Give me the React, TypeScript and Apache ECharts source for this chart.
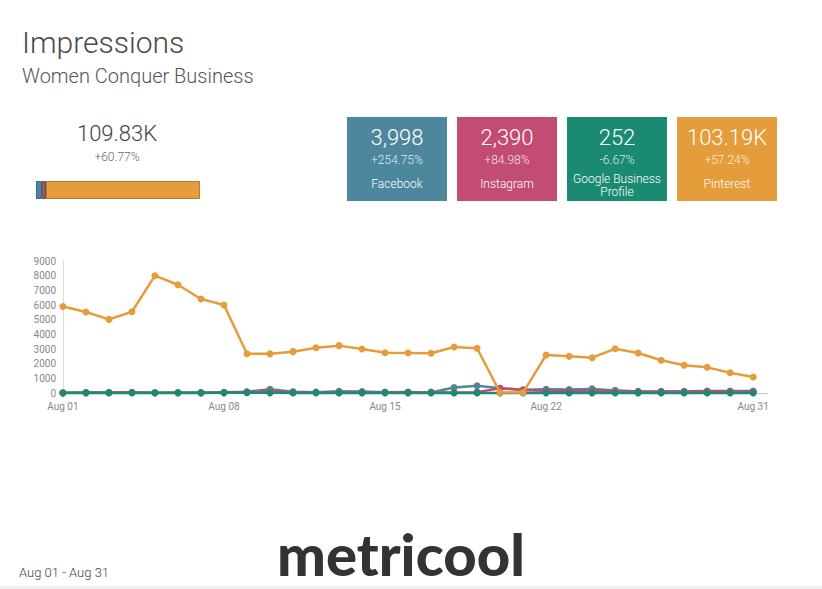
import React, { useEffect, useRef } from "react";
import * as echarts from "echarts";

const dates = [
  "Aug 01","Aug 02","Aug 03","Aug 04","Aug 05","Aug 06","Aug 07","Aug 08","Aug 09","Aug 10",
  "Aug 11","Aug 12","Aug 13","Aug 14","Aug 15","Aug 16","Aug 17","Aug 18","Aug 19","Aug 20",
  "Aug 21","Aug 22","Aug 23","Aug 24","Aug 25","Aug 26","Aug 27","Aug 28","Aug 29","Aug 30","Aug 31",
];
const xLabelIdx = [0, 7, 14, 21, 30];
const yLabels = [0, 1000, 2000, 3000, 4000, 5000, 6000, 7000, 8000, 9000];

const facebook = [20, 30, 40, 30, 20, 30, 30, 50, 80, 250, 90, 60, 120, 100, 60, 70, 40, 380, 500, 320, 220, 260, 240, 280, 180, 110, 110, 120, 130, 140, 140];
const instagram = [10, 20, 40, 50, 20, 20, 10, 20, 70, 120, 60, 40, 60, 40, 30, 50, 60, 40, 60, 330, 200, 150, 130, 140, 110, 90, 80, 90, 120, 100, 90];
const google = [5, 10, 8, 6, 8, 9, 7, 10, 12, 10, 8, 9, 7, 8, 10, 9, 8, 6, 7, 8, 9, 10, 7, 8, 6, 9, 8, 7, 8, 9, 7];
const pinterest = [5900, 5520, 5020, 5540, 8000, 7380, 6410, 6000, 2680, 2670, 2820, 3090, 3230, 3000, 2750, 2730, 2710, 3140, 3050, 30, 30, 2590, 2500, 2410, 3020, 2730, 2230, 1890, 1750, 1380, 1090];

const networks = ["Facebook", "Instagram", "Google Business\nProfile", "Pinterest"];
const totals = [3998, 2390, 252, 103190];
const totalLabels = ["3,998", "2,390", "252", "103.19K"];
const changes = ["+254.75%", "+84.98%", "-6.67%", "+57.24%"];
const colors = ["#4C879D", "#C24C72", "#1B8A72", "#E59C3A"];
const borderColors = ["#3A6B7D", "#9A3A58", "#13705C", "#B9792A"];
const grandTotalLabel = "109.83K";
const grandChange = "+60.77%";
const dateRange = "Aug 01 - Aug 31";

const FONT = "Roboto, 'Liberation Sans', Arial, sans-serif";

export default function App() {
  const ref = useRef<HTMLDivElement>(null);
  useEffect(() => {
    if (!ref.current) return;
    const chart = echarts.init(ref.current, undefined, { renderer: "svg" });
    const seriesData = [facebook, instagram, google, pinterest];
    const lineSeries = seriesData.map((arr, k) => ({
      type: "line",
      name: networks[k],
      xAxisIndex: 0,
      yAxisIndex: 0,
      data: arr.map((v, i) => [i, v]),
      symbol: "circle",
      symbolSize: 7,
      lineStyle: { width: 2.5, color: colors[k] },
      itemStyle: { color: colors[k] },
      z: 2 + k,
    }));
    const barSeries = totals.map((t, k) => ({
      type: "bar",
      name: networks[k] + " total",
      xAxisIndex: 1,
      yAxisIndex: 1,
      stack: "total",
      barWidth: 18,
      data: [t],
      itemStyle: { color: colors[k], borderColor: borderColors[k], borderWidth: 1 },
    }));

    const graphics: any[] = [
      { type: "text", x: 22, y: 42, style: { text: "Impressions", font: `300 30px ${FONT}`, fill: "#4a4a4a", verticalAlign: "middle" } },
      { type: "text", x: 22, y: 76, style: { text: "Women Conquer Business", font: `300 20px ${FONT}`, fill: "#555", verticalAlign: "middle" } },
      { type: "text", x: 117, y: 133, style: { text: grandTotalLabel, font: `300 22px ${FONT}`, fill: "#444", align: "center", verticalAlign: "middle" } },
      { type: "text", x: 117, y: 157, style: { text: grandChange, font: `300 12px ${FONT}`, fill: "#666", align: "center", verticalAlign: "middle" } },
      { type: "text", x: 19, y: 572, style: { text: dateRange, font: `300 13px ${FONT}`, fill: "#444", verticalAlign: "middle" } },
      { type: "text", x: 401, y: 553, style: { text: "metricool", font: `900 58px Lato, ${FONT}`, fill: "#333", align: "center", verticalAlign: "middle" } },
      { type: "rect", shape: { x: 0, y: 586, width: 822, height: 3 }, style: { fill: "#f2f2f2" } },
    ];
    networks.forEach((n, k) => {
      const bx = 347 + k * 110;
      const cx = bx + 50;
      graphics.push({ type: "rect", shape: { x: bx, y: 117, width: 100, height: 84 }, style: { fill: colors[k] } });
      graphics.push({ type: "text", x: cx, y: 137, style: { text: totalLabels[k], font: `300 22px ${FONT}`, fill: "#fff", align: "center", verticalAlign: "middle" } });
      graphics.push({ type: "text", x: cx, y: 160, style: { text: changes[k], font: `300 12px ${FONT}`, fill: "rgba(255,255,255,0.85)", align: "center", verticalAlign: "middle" } });
      const twoLine = n.includes("\n");
      graphics.push({ type: "text", x: cx, y: twoLine ? 185.5 : 184, style: { text: n, font: `300 12px ${FONT}`, fill: "#fff", align: "center", verticalAlign: "middle", lineHeight: 13 } });
    });

    chart.setOption({
      animation: false,
      backgroundColor: "#fff",
      grid: [
        { left: 59, right: 55, top: 261, bottom: 191 },
        { left: 36, top: 181, width: 164, height: 18 },
      ],
      xAxis: [
        {
          type: "value",
          gridIndex: 0,
          min: -0.17,
          max: 30.6,
          splitLine: { show: false },
          axisTick: { show: false },
          axisLine: { show: true, lineStyle: { color: "#c8c8c8", width: 1 } },
          axisLabel: {
            customValues: xLabelIdx,
            formatter: (v: number) => dates[Math.round(v)] ?? "",
            color: "#888",
            fontSize: 10,
            fontFamily: FONT,
            margin: 3,
          },
        },
        { type: "value", gridIndex: 1, min: 0, max: totals.reduce((a, b) => a + b, 0), show: false },
      ],
      yAxis: [
        {
          type: "value",
          gridIndex: 0,
          min: -340,
          max: 9000,
          splitLine: { show: false },
          axisTick: { show: false },
          axisLine: { show: true, lineStyle: { color: "#dcdcdc", width: 1 } },
          axisLabel: {
            customValues: yLabels,
            formatter: (v: number) => String(v),
            color: "#888",
            fontSize: 10,
            fontFamily: FONT,
            margin: 3,
          },
        },
        { type: "category", gridIndex: 1, data: ["total"], show: false },
      ],
      series: [...lineSeries, ...barSeries],
      graphic: graphics,
    });
    return () => chart.dispose();
  }, []);
  return <div ref={ref} style={{ position: "fixed", left: 0, top: 0, width: 822, height: 589 }} />;
}
